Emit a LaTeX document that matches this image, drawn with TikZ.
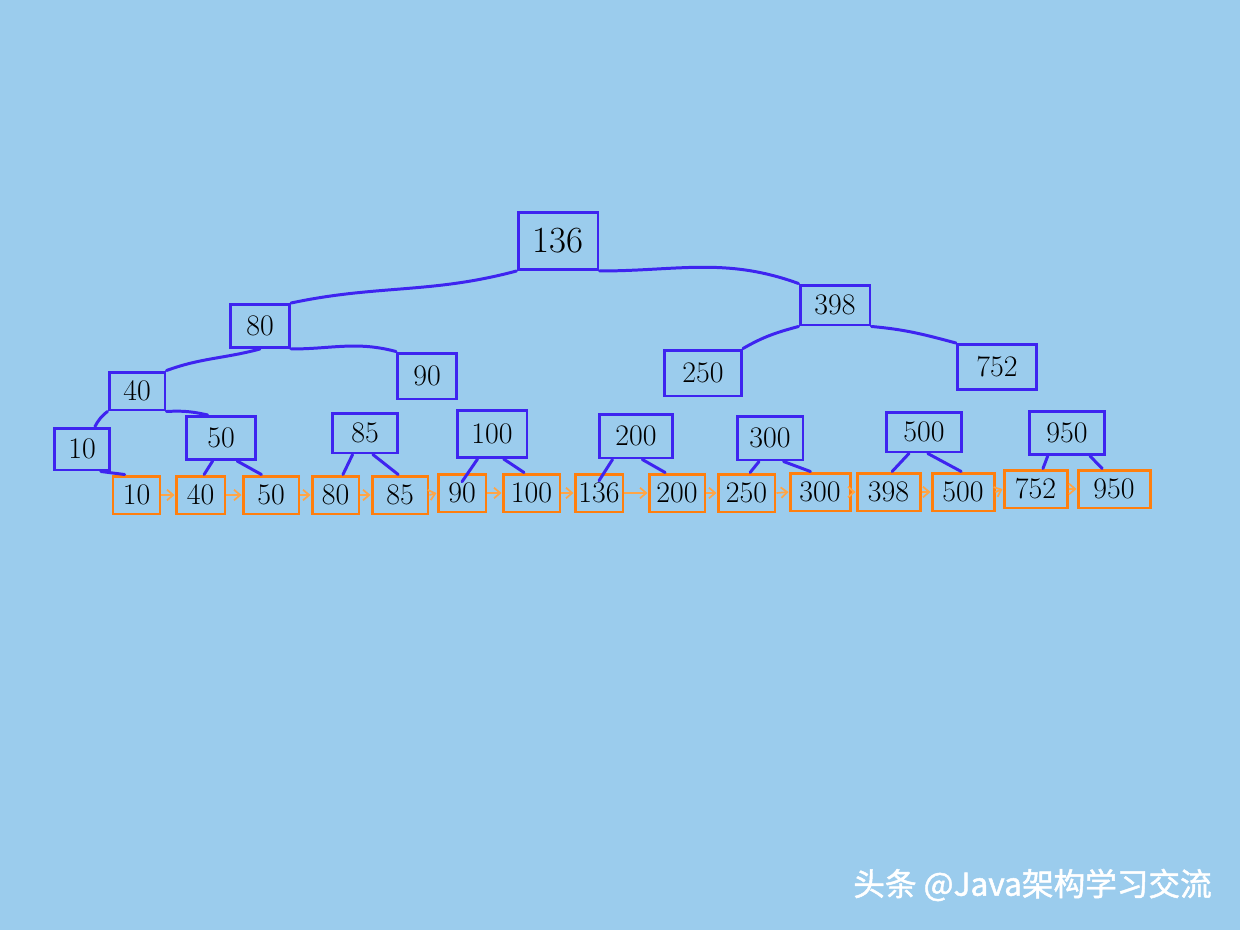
\documentclass[tikz,border=0pt]{standalone}
\usepackage{fontspec}
\newfontfamily\cjkfont[FakeBold=1.5]{Noto Sans CJK SC}
\usetikzlibrary{calc,arrows.meta}
\definecolor{bgblue}{RGB}{155,204,237}
\definecolor{treeblue}{RGB}{62,36,240}
\definecolor{leaforange}{RGB}{255,127,14}
\definecolor{linkorange}{RGB}{255,165,70}
\tikzset{
  ib/.style={draw=treeblue, line width=1.7pt, inner sep=0pt, font=\fontsize{17}{19}\selectfont, text=black},
  lf/.style={draw=leaforange, line width=1.7pt, inner sep=0pt, minimum height=0.76cm, font=\fontsize{17}{19}\selectfont, text=black},
  edge/.style={draw=treeblue, line width=1.7pt, line cap=round},
  link/.style={draw=linkorange, line width=1pt, -{Straight Barb[length=3.5pt,width=6pt]}},
}
\begin{document}
\begin{tikzpicture}[x=0.02cm, y=-0.02cm]
\fill[bgblue] (0,0) rectangle (1240,930);
\useasboundingbox (0,0) rectangle (1240,930);

% internal (blue) nodes
\node[ib, minimum width=1.6cm,  minimum height=1.14cm, font=\fontsize{21}{23}\selectfont] (t136) at (558,241) {136};
\node[ib, minimum width=1.18cm, minimum height=0.86cm] (i80)  at (260,326) {80};
\node[ib, minimum width=1.4cm,  minimum height=0.8cm]  (i398) at (835,305) {398};
\node[ib, minimum width=1.18cm, minimum height=0.92cm] (i90)  at (427,376) {90};
\node[ib, minimum width=1.54cm, minimum height=0.92cm] (i250) at (703,373) {250};
\node[ib, minimum width=1.58cm, minimum height=0.9cm]  (i752) at (997,367) {752};
\node[ib, minimum width=1.12cm, minimum height=0.76cm] (i40)  at (137,391) {40};
\node[ib, minimum width=1.1cm,  minimum height=0.84cm] (i10)  at (82,449)  {10};
\node[ib, minimum width=1.38cm, minimum height=0.86cm] (i50)  at (221,438) {50};
\node[ib, minimum width=1.3cm,  minimum height=0.8cm]  (i85)  at (365,433) {85};
\node[ib, minimum width=1.4cm,  minimum height=0.94cm] (i100) at (492,434) {100};
\node[ib, minimum width=1.46cm, minimum height=0.88cm] (i200) at (636,436) {200};
\node[ib, minimum width=1.32cm, minimum height=0.88cm] (i300) at (770,438) {300};
\node[ib, minimum width=1.5cm,  minimum height=0.8cm]  (i500) at (924,432) {500};
\node[ib, minimum width=1.5cm,  minimum height=0.86cm] (i950) at (1067,433) {950};

% leaves (orange)
\node[lf, minimum width=0.94cm] (l10)  at (136.5,495) {10};
\node[lf, minimum width=0.98cm] (l40)  at (200.5,495) {40};
\node[lf, minimum width=1.12cm] (l50)  at (271,495)   {50};
\node[lf, minimum width=0.94cm] (l80)  at (335.5,495) {80};
\node[lf, minimum width=1.12cm] (l85)  at (400,495)   {85};
\node[lf, minimum width=0.96cm] (l90)  at (462,493)   {90};
\node[lf, minimum width=1.14cm] (l100) at (531.5,493) {100};
\node[lf, minimum width=0.96cm] (l136) at (599,493)   {136};
\node[lf, minimum width=1.12cm] (l200) at (677,493)   {200};
\node[lf, minimum width=1.14cm] (l250) at (746.5,493) {250};
\node[lf, minimum width=1.2cm]  (l300) at (820,492)   {300};
\node[lf, minimum width=1.26cm] (l398) at (888.5,492) {398};
\node[lf, minimum width=1.24cm] (l500) at (963,492)   {500};
\node[lf, minimum width=1.26cm] (l752) at (1035.5,489) {752};
\node[lf, minimum width=1.44cm] (l950) at (1114,489)  {950};

% tree edges
\draw[edge] (t136.south west) to[out=195,in=12] (i80.north east);
\draw[edge] (t136.south east) to[out=0,in=160] (i398.north west);
\draw[edge] (i80.south) to[out=195,in=20] (i40.north east);
\draw[edge] (i80.south east) to[out=0,in=165] (i90.north west);
\draw[edge] (i398.south west) to[out=195,in=30] (i250.north east);
\draw[edge] (i398.south east) to[out=-5,in=165] (i752.north west);
\draw[edge] (i40.south west) to[bend right=12] (i10.60);
\draw[edge] (i40.south east) to[bend left=8] (i50.120);
\draw[edge] (i10.-50) -- (l10.120);
\draw[edge] (i50.250) -- (l40.80);
\draw[edge] (i50.-55) -- (l50.115);
\draw[edge] (i85.240) -- (l80.70);
\draw[edge] (i85.-70) -- (l85.95);
\draw[edge] (i100.240) -- ($(l90.north)!0.45!(l90.center)$);
\draw[edge] (i100.-65) -- (l100.110);
\draw[edge] (i200.225) -- ($(l136.north)!0.4!(l136.center)$);
\draw[edge] (i200.-75) -- (l200.120);
\draw[edge] (i300.245) -- (l250.80);
\draw[edge] (i300.-60) -- (l300.115);
\draw[edge] (i500.235) -- (l398.80);
\draw[edge] (i500.-80) -- (l500.95);
\draw[edge] (i950.230) -- (l752.70);
\draw[edge] (i950.-45) -- (l950.120);

% leaf links
\draw[link] (l10.east) -- (l40.west);
\draw[link] (l40.east) -- (l50.west);
\draw[link] (l50.east) -- (l80.west);
\draw[link] (l80.east) -- (l85.west);
\draw[link] (l85.east) -- (l90.west);
\draw[link] (l90.east) -- (l100.west);
\draw[link] (l100.east) -- (l136.west);
\draw[link] (l136.east) -- (l200.west);
\draw[link] (l200.east) -- (l250.west);
\draw[link] (l250.east) -- (l300.west);
\draw[link] (l300.east) -- (l398.west);
\draw[link] (l398.east) -- (l500.west);
\draw[link] (l500.east) -- (l752.west);
\draw[link] (l752.east) -- (l950.west);

% watermark
\node[text=white, font=\cjkfont\fontsize{18}{20}\selectfont, anchor=east, inner sep=0pt] (wm) at (1212,885) {头条 @Java架构学习交流};
\end{tikzpicture}
\end{document}
